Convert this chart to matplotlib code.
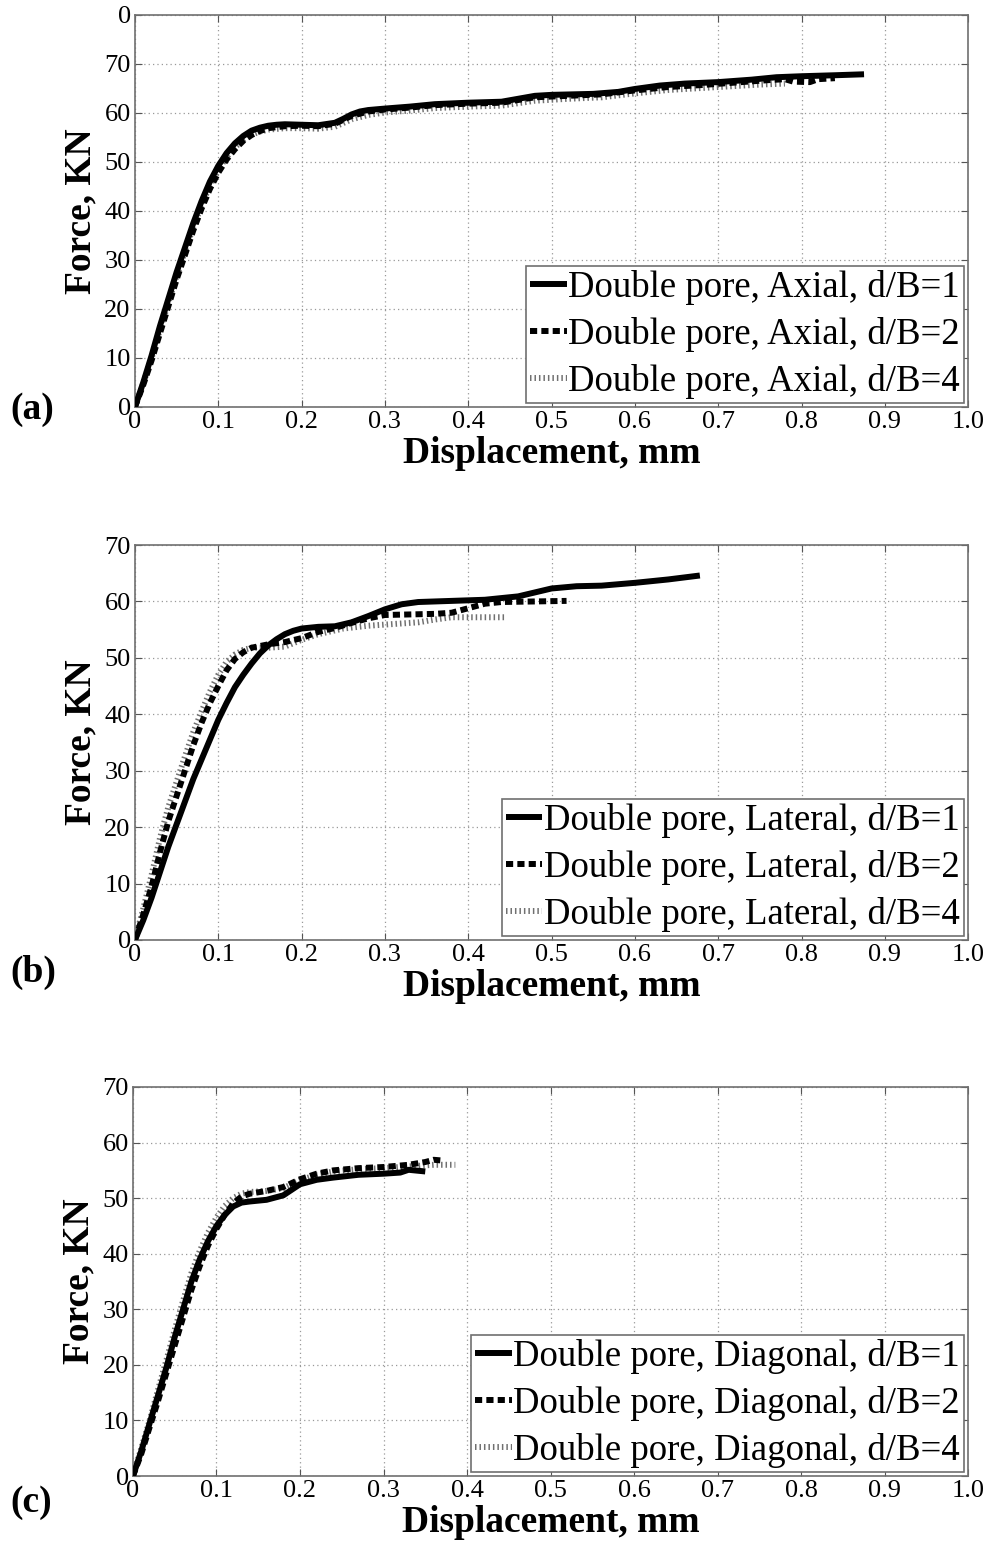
import matplotlib
matplotlib.use('Agg')
import matplotlib.pyplot as plt

plt.rcParams['font.family'] = ['Liberation Serif', 'DejaVu Serif']

# ---- (a) Axial ----
a1_x = [0, 0.01, 0.02, 0.03, 0.04, 0.05, 0.06, 0.07, 0.08, 0.09, 0.10, 0.11, 0.12, 0.13, 0.14,
        0.15, 0.16, 0.17, 0.18, 0.20, 0.22, 0.24, 0.25, 0.26, 0.27, 0.28, 0.30, 0.33, 0.36, 0.40,
        0.44, 0.46, 0.48, 0.50, 0.55, 0.58, 0.60, 0.63, 0.66, 0.70, 0.74, 0.77, 0.80, 0.84, 0.875]
a1_y = [0, 5.0, 10.5, 16.5, 22.0, 27.5, 32.5, 37.5, 42.0, 46.0, 49.2, 51.8, 53.8, 55.3, 56.4,
        57.0, 57.4, 57.6, 57.7, 57.6, 57.5, 58.0, 58.8, 59.7, 60.3, 60.6, 60.9, 61.3, 61.8, 62.1,
        62.3, 62.9, 63.5, 63.7, 63.9, 64.3, 64.9, 65.6, 66.0, 66.3, 66.8, 67.3, 67.5, 67.7, 67.9]
a2_x = [0, 0.01, 0.02, 0.03, 0.04, 0.05, 0.06, 0.07, 0.08, 0.09, 0.10, 0.11, 0.12, 0.13, 0.14,
        0.15, 0.16, 0.18, 0.20, 0.22, 0.24, 0.26, 0.28, 0.30, 0.33, 0.36, 0.40, 0.44, 0.48, 0.52,
        0.56, 0.60, 0.64, 0.68, 0.72, 0.76, 0.78, 0.79, 0.81, 0.82, 0.84]
a2_y = [0, 4.5, 9.5, 15.0, 20.5, 26.0, 31.0, 36.0, 40.5, 44.5, 47.8, 50.5, 52.6, 54.3, 55.5,
        56.3, 56.9, 57.3, 57.4, 57.3, 57.8, 59.4, 60.3, 60.7, 61.1, 61.6, 61.9, 62.1, 63.2, 63.5,
        63.8, 64.6, 65.3, 65.7, 66.2, 66.7, 66.9, 66.4, 66.3, 66.9, 67.1]
a3_x = [0, 0.01, 0.02, 0.03, 0.04, 0.05, 0.06, 0.07, 0.08, 0.09, 0.10, 0.11, 0.12, 0.13, 0.14,
        0.15, 0.16, 0.18, 0.20, 0.22, 0.24, 0.26, 0.28, 0.30, 0.33, 0.36, 0.40, 0.44, 0.48, 0.52,
        0.56, 0.60, 0.64, 0.68, 0.72, 0.75, 0.78]
a3_y = [0, 4.8, 10.0, 15.8, 21.2, 26.7, 31.7, 36.7, 41.2, 45.2, 48.4, 51.0, 53.0, 54.5, 55.6,
        56.2, 56.6, 56.9, 56.9, 56.8, 57.2, 58.7, 59.6, 60.1, 60.5, 61.0, 61.3, 61.5, 62.5, 62.9,
        63.2, 64.0, 64.7, 65.1, 65.5, 65.8, 66.0]

# ---- (b) Lateral ----
b1_x = [0, 0.01, 0.02, 0.03, 0.04, 0.05, 0.06, 0.07, 0.08, 0.09, 0.10, 0.11, 0.12, 0.13, 0.14,
        0.15, 0.16, 0.17, 0.18, 0.19, 0.20, 0.22, 0.24, 0.26, 0.28, 0.30, 0.32, 0.34, 0.38, 0.42,
        0.46, 0.48, 0.50, 0.53, 0.56, 0.60, 0.64, 0.678]
b1_y = [0, 3.5, 7.5, 12.0, 16.5, 20.5, 24.5, 28.5, 32.0, 35.5, 39.0, 42.0, 44.8, 47.0, 49.0,
        50.8, 52.2, 53.3, 54.2, 54.8, 55.2, 55.5, 55.6, 56.3, 57.4, 58.6, 59.5, 59.9, 60.1, 60.3,
        60.9, 61.6, 62.3, 62.7, 62.8, 63.3, 63.9, 64.6]
b2_x = [0, 0.01, 0.02, 0.03, 0.04, 0.05, 0.06, 0.07, 0.08, 0.09, 0.10, 0.11, 0.12, 0.13, 0.14,
        0.16, 0.18, 0.20, 0.22, 0.24, 0.26, 0.28, 0.30, 0.33, 0.36, 0.38, 0.40, 0.42, 0.44, 0.48,
        0.518]
b2_y = [0, 4.5, 9.5, 15.5, 21.0, 25.5, 30.0, 34.5, 38.5, 42.0, 45.0, 47.8, 49.8, 51.0, 51.8,
        52.4, 52.8, 53.5, 54.6, 55.3, 56.2, 57.0, 57.6, 57.7, 57.8, 58.0, 58.8, 59.6, 59.9, 60.0,
        60.1]
b3_x = [0, 0.01, 0.02, 0.03, 0.04, 0.05, 0.06, 0.07, 0.08, 0.09, 0.10, 0.11, 0.12, 0.13, 0.14,
        0.16, 0.18, 0.20, 0.22, 0.25, 0.28, 0.31, 0.34, 0.36, 0.38, 0.42, 0.446]
b3_y = [0, 5.5, 11.5, 18.0, 23.5, 28.0, 32.5, 36.8, 40.5, 44.0, 47.0, 49.3, 50.6, 51.4, 51.8,
        51.8, 52.0, 53.2, 54.2, 55.2, 55.7, 56.0, 56.3, 56.8, 57.2, 57.2, 57.2]

# ---- (c) Diagonal ----
c1_x = [0, 0.01, 0.02, 0.03, 0.04, 0.05, 0.06, 0.07, 0.08, 0.09, 0.10, 0.11, 0.12, 0.13, 0.14,
        0.16, 0.18, 0.19, 0.20, 0.22, 0.24, 0.27, 0.30, 0.32, 0.33, 0.35]
c1_y = [0, 4.5, 9.5, 14.5, 19.5, 25.0, 30.0, 35.0, 39.0, 42.3, 45.0, 47.0, 48.5, 49.2, 49.4,
        49.7, 50.5, 51.5, 52.5, 53.3, 53.7, 54.2, 54.4, 54.6, 55.1, 54.8]
c2_x = [0, 0.01, 0.02, 0.03, 0.04, 0.05, 0.06, 0.07, 0.08, 0.09, 0.10, 0.11, 0.12, 0.13, 0.14,
        0.16, 0.18, 0.20, 0.22, 0.24, 0.27, 0.30, 0.33, 0.35, 0.36, 0.368]
c2_y = [0, 4.0, 8.8, 13.5, 18.5, 23.5, 28.5, 33.5, 37.8, 41.5, 44.5, 47.0, 49.0, 50.3, 50.8,
        51.3, 52.0, 53.4, 54.4, 55.0, 55.4, 55.6, 56.0, 56.5, 56.9, 56.8]
c3_x = [0, 0.01, 0.02, 0.03, 0.04, 0.05, 0.06, 0.07, 0.08, 0.09, 0.10, 0.11, 0.12, 0.13, 0.14,
        0.16, 0.18, 0.20, 0.22, 0.24, 0.27, 0.30, 0.33, 0.36, 0.386]
c3_y = [0, 5.0, 10.0, 15.5, 20.8, 26.3, 31.5, 36.5, 40.5, 43.8, 46.5, 48.6, 50.0, 50.8, 51.1,
        51.3, 51.8, 53.2, 54.2, 54.8, 55.2, 55.4, 55.7, 56.0, 56.0]

x_ticks = [0, 0.1, 0.2, 0.3, 0.4, 0.5, 0.6, 0.7, 0.8, 0.9, 1.0]
x_tick_labels = ['0', '0.1', '0.2', '0.3', '0.4', '0.5', '0.6', '0.7', '0.8', '0.9', '1.0']
y_ticks_a = [0, 10, 20, 30, 40, 50, 60, 70, 80]
y_tick_labels_a = ['0', '10', '20', '30', '40', '50', '60', '70', '0']
y_ticks_bc = [0, 10, 20, 30, 40, 50, 60, 70]
y_tick_labels_bc = ['0', '10', '20', '30', '40', '50', '60', '70']

panels = [
    ('(a)', 'Axial', (a1_x, a1_y), (a2_x, a2_y), (a3_x, a3_y), 80, y_ticks_a, y_tick_labels_a,
     [0.136, 0.7364, 0.840, 0.2539], 0.7345),
    ('(b)', 'Lateral', (b1_x, b1_y), (b2_x, b2_y), (b3_x, b3_y), 70, y_ticks_bc, y_tick_labels_bc,
     [0.136, 0.3912, 0.840, 0.2558], 0.3705),
    ('(c)', 'Diagonal', (c1_x, c1_y), (c2_x, c2_y), (c3_x, c3_y), 70, y_ticks_bc, y_tick_labels_bc,
     [0.134, 0.0440, 0.842, 0.2520], 0.0266),
]

fig = plt.figure(figsize=(9.92, 15.44), dpi=100)

for tag, kind, s1, s2, s3, ymax, yt, ytl, pos, tag_y in panels:
    ax = fig.add_axes(pos)
    ax.plot(s1[0], s1[1], color='black', lw=4.3, solid_capstyle='butt', solid_joinstyle='round',
            label='Double pore, %s, d/B=1' % kind, zorder=3)
    ax.plot(s2[0], s2[1], color='black', lw=4.3, linestyle=(0, (1.2, 0.7)),
            label='Double pore, %s, d/B=2' % kind, zorder=4)
    ax.plot(s3[0], s3[1], color='#707070', lw=4.3, linestyle=(0, (0.25, 0.5)),
            label='Double pore, %s, d/B=4' % kind, zorder=2)
    ax.set_xlim(0, 1.0)
    ax.set_ylim(0, ymax)
    ax.set_xticks(x_ticks)
    ax.set_xticklabels(x_tick_labels)
    ax.set_yticks(yt)
    ax.set_yticklabels(ytl)
    ax.tick_params(direction='in', top=True, right=True, labelsize=19, length=5,
                   color='#555555', pad=3)
    ax.grid(True, linestyle=(0, (1, 2.5)), color='#999999', lw=0.9)
    for sp in ax.spines.values():
        sp.set_color('#707070')
        sp.set_linewidth(1.2)
    ax.set_xlabel('Displacement, mm', fontsize=27, fontweight='bold', labelpad=2)
    ax.set_ylabel('Force, KN', fontsize=27, fontweight='bold', labelpad=4)
    leg = ax.legend(loc='lower right', fontsize=26.5, handlelength=1.0, handletextpad=0.05,
                    labelspacing=0.33, borderpad=0.1, borderaxespad=0.12,
                    fancybox=False, framealpha=1)
    leg.get_frame().set_edgecolor('#707070')
    leg.get_frame().set_linewidth(1.2)
    fig.text(0.01, tag_y, tag, fontsize=27, fontweight='bold', va='center', ha='left')

fig.savefig('out.png', dpi=100)
